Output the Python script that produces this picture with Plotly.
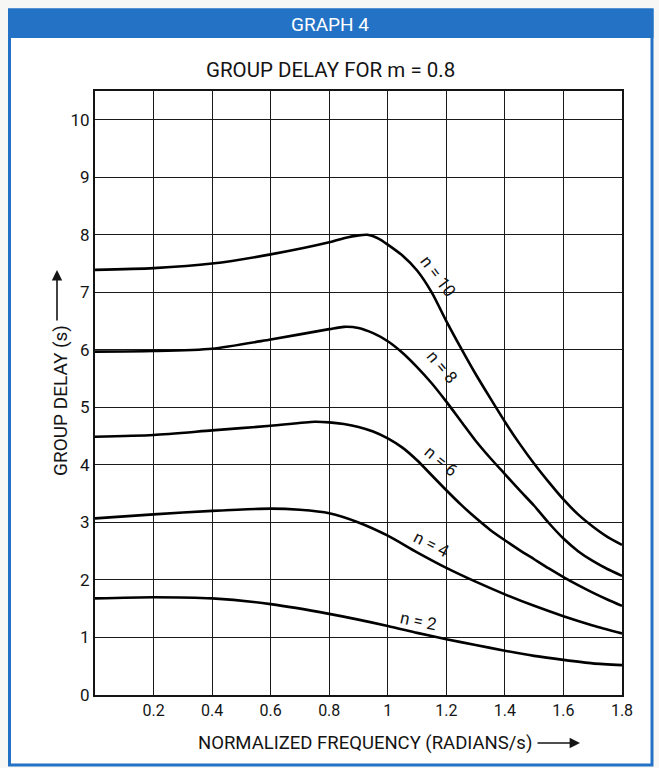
import plotly.graph_objects as go

# ---- data: group delay (s) vs normalized frequency (rad/s), m = 0.8 ----
freq_n2 = [0, 0.2, 0.4, 0.6, 0.8, 1.0, 1.1, 1.2, 1.3, 1.4, 1.5, 1.6, 1.7, 1.8]
delay_n2 = [1.68, 1.70, 1.68, 1.58, 1.41, 1.20, 1.08, 0.97, 0.87, 0.77, 0.68, 0.61, 0.55, 0.52]

freq_n4 = [0, 0.2, 0.4, 0.6, 0.7, 0.8, 0.9, 1.0, 1.1, 1.2, 1.3, 1.4, 1.5, 1.6, 1.7, 1.8]
delay_n4 = [3.07, 3.14, 3.20, 3.24, 3.22, 3.16, 3.00, 2.77, 2.48, 2.21, 1.97, 1.75, 1.55, 1.37, 1.21, 1.07]

freq_n6 = [0, 0.2, 0.4, 0.6, 0.75, 0.8, 0.85, 0.9, 0.95, 1.0, 1.05, 1.1, 1.15, 1.2,
           1.25, 1.3, 1.35, 1.4, 1.45, 1.5, 1.55, 1.6, 1.65, 1.7, 1.75, 1.8]
delay_n6 = [4.49, 4.52, 4.60, 4.68, 4.75, 4.74, 4.71, 4.66, 4.58, 4.46, 4.30, 4.08, 3.82, 3.56,
            3.31, 3.08, 2.87, 2.69, 2.52, 2.36, 2.20, 2.05, 1.91, 1.78, 1.66, 1.55]

freq_n8 = [0, 0.2, 0.4, 0.6, 0.8, 0.85, 0.9, 0.95, 1.0, 1.05, 1.1, 1.15, 1.2, 1.25, 1.3,
           1.35, 1.4, 1.45, 1.5, 1.55, 1.6, 1.65, 1.7, 1.75, 1.8]
delay_n8 = [5.97, 5.98, 6.02, 6.18, 6.36, 6.40, 6.38, 6.29, 6.15, 5.95, 5.70, 5.42, 5.10, 4.76, 4.42,
            4.12, 3.84, 3.56, 3.29, 2.99, 2.72, 2.50, 2.33, 2.19, 2.07]

freq_n10 = [0, 0.2, 0.4, 0.6, 0.8, 0.85, 0.9, 0.93, 0.97, 1.0, 1.05, 1.1, 1.15, 1.2, 1.25, 1.3,
            1.35, 1.4, 1.45, 1.5, 1.55, 1.6, 1.65, 1.7, 1.75, 1.8]
delay_n10 = [7.39, 7.42, 7.50, 7.66, 7.87, 7.94, 7.99, 8.00, 7.93, 7.83, 7.64, 7.38, 7.00, 6.50, 6.03, 5.58,
             5.16, 4.75, 4.37, 4.02, 3.70, 3.40, 3.14, 2.93, 2.75, 2.61]

curve_names = ["n = 2", "n = 4", "n = 6", "n = 8", "n = 10"]
x_tick_vals = [0.2, 0.4, 0.6, 0.8, 1.0, 1.2, 1.4, 1.6, 1.8]
x_tick_text = ["0.2", "0.4", "0.6", "0.8", "1", "1.2", "1.4", "1.6", "1.8"]
y_tick_vals = [0, 1, 2, 3, 4, 5, 6, 7, 8, 9, 10]

# ---- page geometry ----
W, H = 659, 768
ML, MR, MT, MB = 95, 37, 91, 73
BLUE = "#2372c6"
FONT = "Roboto, Arial, sans-serif"
INK = "#141414"


def px(x):
    """page pixel column -> paper x"""
    return (x - ML) / (W - ML - MR)


def py(y):
    """page pixel row -> paper y"""
    return (H - MB - y) / (H - MT - MB)


fig = go.Figure()

series = [
    (freq_n2, delay_n2),
    (freq_n4, delay_n4),
    (freq_n6, delay_n6),
    (freq_n8, delay_n8),
    (freq_n10, delay_n10),
]
for name, (xs, ys) in zip(curve_names, series):
    fig.add_trace(go.Scatter(
        x=xs, y=ys, mode="lines", name=name,
        line=dict(color="black", width=2.6, shape="spline", smoothing=0.7),
        showlegend=False, hoverinfo="x+y",
    ))

# curve labels written along each curve, nudged off the line (pixels)
label_spots = {
    #          x      y    angle xshift yshift
    "n = 10": (1.158, 7.23, 53, 4, 3),
    "n = 8": (1.162, 5.62, 50, 7, 5),
    "n = 6": (1.166, 3.97, 40, 5, 6),
    "n = 4": (1.142, 2.57, 27, 2, 3),
    "n = 2": (1.106, 1.25, 12, 0, 2),
}
annotations = []
for name in curve_names:
    lx, ly, ang, sx, sy = label_spots[name]
    annotations.append(dict(
        x=lx, y=ly, xref="x", yref="y", text=name, showarrow=False,
        xanchor="center", yanchor="middle", xshift=sx, yshift=sy,
        textangle=ang, font=dict(family=FONT, size=17, color=INK),
    ))


def page_text(x, y, text, size, color=INK, angle=0):
    return dict(x=px(x), y=py(y), xref="paper", yref="paper", text=text,
                showarrow=False, xanchor="center", yanchor="middle",
                textangle=angle, font=dict(family=FONT, size=size, color=color))


# header, title and axis titles
annotations += [
    page_text(330, 24, "GRAPH 4", 19, color="white"),
    page_text(330, 70, "GROUP DELAY FOR m = 0.8", 20.5),
    page_text(365, 743, "NORMALIZED FREQUENCY (RADIANS/s)", 18.5),
    page_text(60, 401, "GROUP DELAY (s)", 19, angle=-90),
    # direction arrows next to the axis titles
    dict(x=px(580), y=py(743), xref="paper", yref="paper", text="",
         showarrow=True, ax=-44, ay=0, arrowhead=2, arrowsize=1.3,
         arrowwidth=1.6, arrowcolor=INK),
    dict(x=px(57), y=py(270), xref="paper", yref="paper", text="",
         showarrow=True, ax=0, ay=52, arrowhead=2, arrowsize=1.3,
         arrowwidth=1.6, arrowcolor=INK),
]

shapes = [
    # outer blue-framed panel
    dict(type="rect", xref="paper", yref="paper", layer="below",
         x0=px(9.5), x1=px(652), y0=py(765), y1=py(10),
         line=dict(color=BLUE, width=3), fillcolor="white"),
    # header band
    dict(type="rect", xref="paper", yref="paper", layer="below",
         x0=px(8), x1=px(653.5), y0=py(38), y1=py(8.5),
         line=dict(width=0), fillcolor=BLUE),
]

fig.update_layout(
    width=W, height=H,
    margin=dict(l=ML, r=MR, t=MT, b=MB, pad=0),
    paper_bgcolor="#f7f7f5",
    plot_bgcolor="white",
    annotations=annotations,
    shapes=shapes,
    font=dict(family=FONT, size=16, color=INK),
    xaxis=dict(
        range=[0, 1.8], tickvals=x_tick_vals, ticktext=x_tick_text,
        showgrid=True, gridcolor="#1a1a1a", gridwidth=1,
        showline=True, linecolor=INK, linewidth=2, mirror=True,
        zeroline=False, ticks="", tickfont=dict(family=FONT, size=16),
        fixedrange=True,
    ),
    yaxis=dict(
        range=[0, 10.5], tickvals=y_tick_vals,
        showgrid=True, gridcolor="#1a1a1a", gridwidth=1,
        showline=True, linecolor=INK, linewidth=2, mirror=True,
        zeroline=False, ticks="", tickfont=dict(family=FONT, size=17),
        fixedrange=True,
    ),
)

fig.write_html("out.html")
